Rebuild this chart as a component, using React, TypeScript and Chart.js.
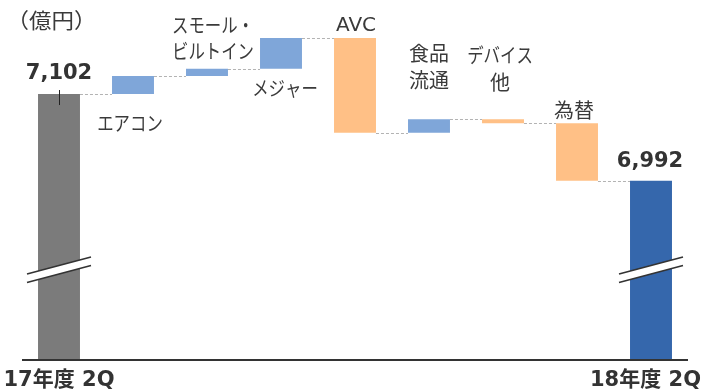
import React, { useEffect, useRef } from "react";
import { Chart, registerables } from "chart.js";

Chart.register(...registerables);

const categories: string[][] = [
  ["17年度 2Q"],
  ["エアコン"],
  ["スモール・", "ビルトイン"],
  ["メジャー"],
  ["AVC"],
  ["食品", "流通"],
  ["デバイス", "他"],
  ["為替"],
  ["18年度 2Q"],
];
const startValue = 7102;
const endValue = 6992;
const deltas = [23, 9, 39, -120, 17, -5, -73];
const unitLabel = "（億円）";
const axisMin = 6766;
const axisMax = 7206;

const colGray = "#7b7b7b";
const colUp = "#7fa6d9";
const colDown = "#ffc086";
const colEnd = "#3567ac";

function buildData() {
  const data: [number, number][] = [[axisMin, startValue]];
  const colors: string[] = [colGray];
  let cur = startValue;
  for (const d of deltas) {
    data.push([cur, cur + d]);
    colors.push(d >= 0 ? colUp : colDown);
    cur += d;
  }
  data.push([axisMin, endValue]);
  colors.push(colEnd);
  return { data, colors };
}

const JP = '"Noto Sans CJK JP", "Noto Sans", sans-serif';
const LAT = '"DejaVu Sans", "Noto Sans CJK JP", sans-serif';

function drawText(
  ctx: CanvasRenderingContext2D,
  text: string,
  x: number,
  y: number,
  font: string,
  color: string,
  align: CanvasTextAlign = "center",
  sx = 1
) {
  ctx.save();
  ctx.font = font;
  ctx.fillStyle = color;
  ctx.textAlign = align;
  ctx.textBaseline = "middle";
  ctx.translate(x, y);
  ctx.scale(sx, 1);
  ctx.fillText(text, 0, 0);
  ctx.restore();
}

// draw text so its ink spans [inkLeft, inkRight]
function drawTextInk(
  ctx: CanvasRenderingContext2D,
  text: string,
  inkLeft: number,
  inkRight: number,
  y: number,
  font: string,
  color: string
) {
  ctx.save();
  ctx.font = font;
  ctx.textAlign = "left";
  ctx.textBaseline = "middle";
  const m = ctx.measureText(text);
  const l = m.actualBoundingBoxLeft;
  const r = m.actualBoundingBoxRight;
  const ink = l + r;
  const sx = ink > 0 ? (inkRight - inkLeft) / ink : 1;
  ctx.fillStyle = color;
  ctx.translate(inkLeft + l * sx, y);
  ctx.scale(sx, 1);
  ctx.fillText(text, 0, 0);
  ctx.restore();
}

// label placement relative to bars: anchor, offset of last line, dx
const labelPlace: { anchor: "top" | "bottom"; dy: number; dx: number }[] = [
  { anchor: "top", dy: 0, dx: 0 },
  { anchor: "bottom", dy: 29, dx: -3 },
  { anchor: "top", dy: -17, dx: 6 },
  { anchor: "bottom", dy: 20, dx: 4 },
  { anchor: "top", dy: -12, dx: 1 },
  { anchor: "top", dy: -39, dx: 0 },
  { anchor: "top", dy: -37, dx: -3 },
  { anchor: "top", dy: -13, dx: -3 },
  { anchor: "top", dy: 0, dx: 0 },
];

const textCol = "#3a3a3a";

const overlayPlugin = {
  id: "waterfallOverlay",
  afterDatasetsDraw(chart: any) {
    const ctx: CanvasRenderingContext2D = chart.ctx;
    const meta = chart.getDatasetMeta(0);
    const area = chart.chartArea;
    const yScale = chart.scales.y;
    const bars = meta.data.map((b: any) => {
      const p = b.getProps(["x", "y", "base", "width"], true);
      return {
        x: p.x,
        top: Math.min(p.y, p.base),
        bottom: Math.max(p.y, p.base),
        left: p.x - p.width / 2,
        right: p.x + p.width / 2,
      };
    });
    const ds = chart.data.datasets[0].data as [number, number][];

    // connectors
    ctx.save();
    ctx.strokeStyle = "#b3b3b3";
    ctx.lineWidth = 1;
    ctx.setLineDash([3, 2]);
    for (let i = 0; i < bars.length - 1; i++) {
      const v = ds[i][1];
      const y = Math.round(yScale.getPixelForValue(v)) + 0.5;
      ctx.beginPath();
      ctx.moveTo(bars[i].right, y);
      ctx.lineTo(bars[i + 1].left, y);
      ctx.stroke();
    }
    ctx.restore();

    // tick on the start bar
    ctx.save();
    ctx.strokeStyle = "#222";
    ctx.lineWidth = 1;
    ctx.beginPath();
    ctx.moveTo(Math.round(bars[0].x) + 0.5, bars[0].top - 4);
    ctx.lineTo(Math.round(bars[0].x) + 0.5, bars[0].top + 11);
    ctx.stroke();
    ctx.restore();

    // break marks
    [0, bars.length - 1].forEach((i) => {
      const cx = bars[i].x;
      const yb = area.bottom - 85;
      const x0 = cx - 32;
      const x1 = cx + 32;
      ctx.save();
      ctx.fillStyle = "#ffffff";
      ctx.beginPath();
      ctx.moveTo(x0, yb);
      ctx.lineTo(x1, yb - 17);
      ctx.lineTo(x1, yb - 17 + 8.4);
      ctx.lineTo(x0, yb + 8.4);
      ctx.closePath();
      ctx.fill();
      ctx.strokeStyle = "#333";
      ctx.lineWidth = 1.6;
      ctx.beginPath();
      ctx.moveTo(x0, yb);
      ctx.lineTo(x1, yb - 17);
      ctx.moveTo(x0, yb + 8.4);
      ctx.lineTo(x1, yb - 17 + 8.4);
      ctx.stroke();
      ctx.restore();
    });

    // axis line
    ctx.save();
    ctx.strokeStyle = "#333";
    ctx.lineWidth = 2;
    ctx.beginPath();
    ctx.moveTo(area.left, area.bottom + 1);
    ctx.lineTo(area.right, area.bottom + 1);
    ctx.stroke();
    ctx.restore();

    // unit label
    drawTextInk(ctx, unitLabel, 21.5, 81.5, 20, `21px ${JP}`, textCol);

    // category labels
    const lh = 26.5;
    for (let i = 1; i < bars.length - 1; i++) {
      const pl = labelPlace[i];
      const lines = categories[i];
      const baseY = pl.anchor === "top" ? bars[i].top + pl.dy : bars[i].bottom + pl.dy;
      lines.forEach((ln, k) => {
        const y = baseY - (lines.length - 1 - k) * lh;
        const kana = /[\u30A0-\u30FF]/.test(ln);
        const latin = /^[A-Za-z]+$/.test(ln);
        drawText(
          ctx,
          ln,
          bars[i].x + pl.dx,
          y,
          latin ? `20px ${LAT}` : `20px ${JP}`,
          textCol,
          "center",
          kana ? 0.82 : 1
        );
      });
    }

    // value labels
    const fmt = (v: number) => v.toLocaleString("en-US");
    drawText(ctx, fmt(startValue), bars[0].x, bars[0].top - 20, `bold 21px ${LAT}`, "#333");
    const last = bars.length - 1;
    drawText(ctx, fmt(endValue), bars[last].x - 1, bars[last].top - 19, `bold 21px ${LAT}`, "#333");

    // bottom labels
    const w = chart.width;
    ctx.save();
    ctx.font = `bold 21px ${LAT}`;
    const w0 = ctx.measureText(categories[0][0]).width;
    const w8 = ctx.measureText(categories[last][0]).width;
    ctx.restore();
    const ly = area.bottom + 22;
    const x0 = Math.max(bars[0].x, w0 / 2 + 3);
    const x8 = Math.min(bars[last].x, w - w8 / 2 - 1);
    drawText(ctx, categories[0][0], x0, ly, `bold 21px ${LAT}`, "#333");
    drawText(ctx, categories[last][0], x8, ly, `bold 21px ${LAT}`, "#333");
  },
};

export default function App() {
  const ref = useRef<HTMLCanvasElement | null>(null);
  useEffect(() => {
    if (!ref.current) return;
    const { data, colors } = buildData();
    const chart = new Chart(ref.current, {
      type: "bar",
      data: {
        labels: categories.map((c) => c.join("")),
        datasets: [
          {
            data: data as any,
            backgroundColor: colors,
            borderWidth: 0,
            barPercentage: 0.567,
            categoryPercentage: 1,
          },
        ],
      },
      options: {
        animation: false,
        responsive: true,
        maintainAspectRatio: false,
        layout: { padding: { left: 22, right: 14, top: 12, bottom: 33 } },
        plugins: { legend: { display: false }, tooltip: { enabled: false } },
        scales: {
          x: { display: false },
          y: { display: false, min: axisMin, max: axisMax },
        },
      },
      plugins: [overlayPlugin],
    });
    return () => chart.destroy();
  }, []);
  return (
    <div style={{ position: "absolute", left: 0, top: 0, width: 702, height: 392, background: "#fff" }}>
      <canvas ref={ref} />
    </div>
  );
}
